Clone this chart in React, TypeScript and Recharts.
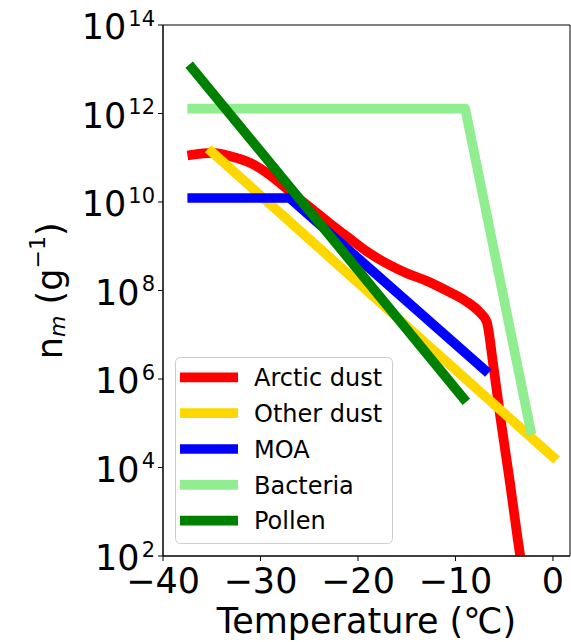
import { Legend, Line, LineChart, ReferenceArea, XAxis, YAxis } from "recharts";

// temperature (°C) and number of active sites per gram
const arcticDustT = [-37, -35, -33, -31, -29, -27, -25, -23, -21, -19, -17, -15, -13, -11, -9, -7.5, -6.8, -6.1, -5.4, -4.4, -3.6, -3.2];
const arcticDustN = [1.17e11, 1.29e11, 1.07e11, 7.6e10, 4.0e10, 1.74e10, 7.8e9, 3.45e9, 1.58e9, 7.4e8, 4.0e8, 2.45e8, 1.66e8, 1.02e8, 5.9e7, 3.2e7, 2.0e7, 1.9e6, 1.4e5, 4.4e3, 230, 59];

const otherDustT = [-35, 0];
const otherDustN = [1.35e11, 1.74e4];

const moaT = [-37, -27, -7];
const moaN = [1.23e10, 1.23e10, 1.6e6];

const bacteriaT = [-37, -9, -2.3];
const bacteriaN = [1.29e12, 1.29e12, 7.1e4];

const pollenT = [-37, -9.2];
const pollenN = [1.05e13, 3.7e5];

const xTicks = [-40, -30, -20, -10, 0];
const yTicks = [1e2, 1e4, 1e6, 1e8, 1e10, 1e12, 1e14];

const X_DOMAIN = [-40, 1.75];
const Y_DOMAIN = [1e2, 1e14];

const toPoints = (t: number[], n: number[]) => t.map((v, i) => ({ t: v, n: n[i] }));

const series = [
  { name: "Arctic dust", color: "#ff0000", data: toPoints(arcticDustT, arcticDustN), curve: "monotone" },
  { name: "Other dust", color: "#ffd700", data: toPoints(otherDustT, otherDustN), curve: "linear" },
  { name: "MOA", color: "#0000ff", data: toPoints(moaT, moaN), curve: "linear" },
  { name: "Bacteria", color: "#90ee90", data: toPoints(bacteriaT, bacteriaN), curve: "linear" },
  { name: "Pollen", color: "#008000", data: toPoints(pollenT, pollenN), curve: "linear" },
];

const FONT = "DejaVu Sans";
const LW = 9.7;

function XTick(props: any) {
  const { x, y, payload } = props;
  return (
    <text x={x} y={y + 30} textAnchor="middle" fontFamily={FONT} fontSize={35} fill="#000">
      {String(payload.value).replace("-", "\u2212")}
    </text>
  );
}

function YTick(props: any) {
  const { x, y, payload } = props;
  const exp = Math.round(Math.log10(payload.value));
  return (
    <text x={x - 1} y={y + 14} textAnchor="end" fontFamily={FONT} fontSize={35} fill="#000">
      <tspan>10</tspan>
      <tspan dx={2} dy={-13.5} fontSize={21}>{exp}</tspan>
    </text>
  );
}

function LegendBox() {
  return (
    <svg width={218} height={187}>
      <rect x={0.5} y={0.5} width={217} height={186} rx={5} fill="#fff" fillOpacity={0.8} stroke="#cccccc" />
      {series.map((s, i) => {
        const cy = 20.3 + i * 35.85;
        return (
          <g key={s.name}>
            <line x1={5} x2={63} y1={cy} y2={cy} stroke={s.color} strokeWidth={LW} />
            <text x={79} y={cy + 8.7} fontFamily={FONT} fontSize={24} fill="#000">
              {s.name}
            </text>
          </g>
        );
      })}
    </svg>
  );
}

function YLabel() {
  const cx = 61.7;
  const cy = 290.8;
  return (
    <text
      x={cx}
      y={cy}
      transform={`rotate(-90, ${cx}, ${cy})`}
      textAnchor="middle"
      fontFamily={FONT}
      fontSize={35}
      fill="#000"
    >
      <tspan>n</tspan>
      <tspan fontSize={22} fontStyle="italic" dy={3}>m</tspan>
      <tspan dy={-3}>{" (g"}</tspan>
      <tspan fontSize={22} dy={-16.5}>{"\u22121"}</tspan>
      <tspan dy={16.5}>)</tspan>
    </text>
  );
}

function XLabel() {
  return (
    <text x={366.5} y={633.3} textAnchor="middle" fontFamily={FONT} fontSize={35} fill="#000">
      Temperature (℃)
    </text>
  );
}

export default function App() {
  return (
    <div style={{ position: "absolute", left: 0, top: 0 }}>
      <LineChart width={571} height={642} margin={{ top: 25, right: 1, bottom: 0, left: 0 }}>
        <XAxis
          dataKey="t"
          type="number"
          domain={X_DOMAIN}
          ticks={xTicks}
          allowDataOverflow
          height={86}
          tickSize={5}
          stroke="#000"
          tick={<XTick />}
          label={<XLabel />}
        />
        <YAxis
          dataKey="n"
          scale="log"
          type="number"
          domain={Y_DOMAIN}
          ticks={yTicks}
          allowDataOverflow
          width={163}
          tickSize={5}
          stroke="#000"
          tick={<YTick />}
          label={<YLabel />}
        />
        {/* full box around the plot, as matplotlib draws all four spines */}
        <ReferenceArea
          x1={X_DOMAIN[0]}
          x2={X_DOMAIN[1]}
          y1={Y_DOMAIN[0]}
          y2={Y_DOMAIN[1]}
          fill="none"
          stroke="#000"
          strokeWidth={1}
          ifOverflow="visible"
        />
        {series.map((s) => (
          <Line
            key={s.name}
            data={s.data}
            dataKey="n"
            name={s.name}
            type={s.curve as any}
            stroke={s.color}
            strokeWidth={LW}
            strokeLinecap="square"
            strokeLinejoin="round"
            dot={false}
            activeDot={false}
            isAnimationActive={false}
          />
        ))}
        <Legend
          layout="vertical"
          align="center"
          verticalAlign="middle"
          wrapperStyle={{ left: 175, top: 357, width: 218, height: 187 }}
          content={() => <LegendBox />}
        />
      </LineChart>
    </div>
  );
}
